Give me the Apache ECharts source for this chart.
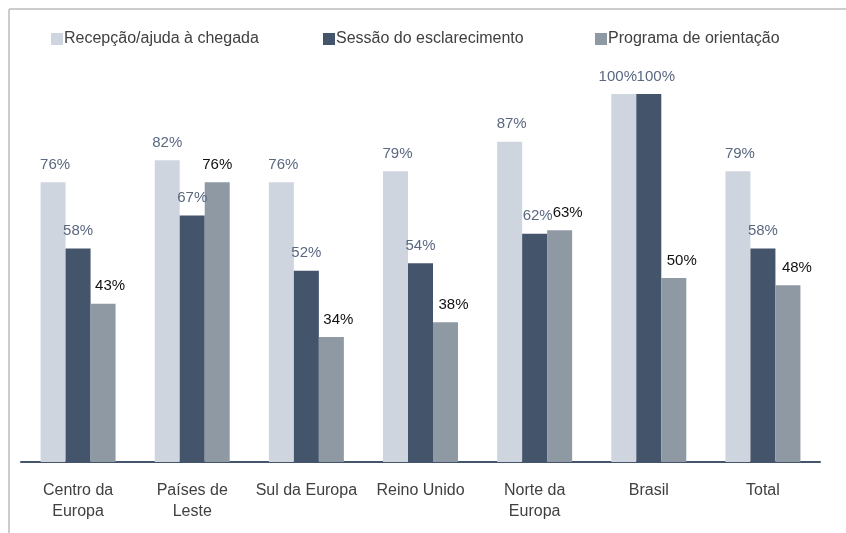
<!DOCTYPE html>
<html>
<head>
<meta charset="utf-8">
<script src="https://cdn.jsdelivr.net/npm/echarts@6/dist/echarts.min.js"></script>
<style>
html, body { margin: 0; padding: 0; background: #fff; }
#chart { width: 846px; height: 533px; }
</style>
</head>
<body>
<div id="chart"></div>
<script>
// categorias (com quebra de linha como no original)
var regioes = ['Centro da\nEuropa', 'Países de\nLeste', 'Sul da Europa', 'Reino Unido', 'Norte da\nEuropa', 'Brasil', 'Total'];
var seriesNomes = ['Recepção/ajuda à chegada', 'Sessão do esclarecimento', 'Programa de orientação'];
var recepcao = [76, 82, 76, 79, 87, 100, 79];
var sessao = [58, 67, 52, 54, 62, 100, 58];
var programa = [43, 76, 34, 38, 63, 50, 48];

var cores = ['#cfd5df', '#44546a', '#8e99a4'];
var coresRotulo = ['#5a6880', '#5a6880', '#111111'];
// deslocamento horizontal dos rótulos (como o Excel os deixou)
var deslocRotulo = [
	[2, 0, 2, 2, 2, -6, 2],
	[0, 0, 0, 0, 3, 7, 0],
	[7, 0, 7, 8, 8, 8, 9]
];
var legendaEsq = [46, 318, 590];

var myChart = echarts.init(document.getElementById('chart'));

function serie(i, dados) {
	var itens = [];
	for (var k = 0; k < dados.length; k++) {
		itens.push({ value: dados[k], label: { offset: [deslocRotulo[i][k], 0] } });
	}
	return {
		name: seriesNomes[i],
		type: 'bar',
		data: itens,
		barWidth: 25,
		barGap: '0%',
		itemStyle: { color: cores[i] },
		label: {
			show: true,
			position: 'top',
			distance: 10,
			formatter: '{c}%',
			fontFamily: 'Liberation Sans',
			fontSize: 15,
			color: coresRotulo[i]
		}
	};
}

var legendas = [];
for (var j = 0; j < seriesNomes.length; j++) {
	legendas.push({
		top: 26,
		left: legendaEsq[j],
		itemWidth: 12,
		itemHeight: 12,
		icon: 'rect',
		textStyle: { fontFamily: 'Liberation Sans', fontSize: 16, color: '#404040', padding: [0, 0, 0, -4] },
		data: [seriesNomes[j]]
	});
}

var option = {
	animation: false,
	backgroundColor: '#fff',
	graphic: [
		// moldura cortada do gráfico original
		{ type: 'line', shape: { x1: 9, y1: 9, x2: 846, y2: 9 }, style: { stroke: '#cccccc', lineWidth: 2 } },
		{ type: 'line', shape: { x1: 9, y1: 9, x2: 9, y2: 533 }, style: { stroke: '#cccccc', lineWidth: 2 } }
	],
	legend: legendas,
	grid: { left: 21, right: 26, top: 94, bottom: 71, containLabel: false },
	xAxis: {
		type: 'category',
		data: regioes,
		axisLine: { lineStyle: { color: '#44546a', width: 2 } },
		axisTick: { show: false },
		axisLabel: {
			interval: 0,
			margin: 18,
			fontFamily: 'Liberation Sans',
			fontSize: 16,
			lineHeight: 21,
			color: '#404040'
		}
	},
	yAxis: {
		type: 'value',
		min: 0,
		max: 100,
		show: false,
		splitLine: { show: false }
	},
	series: [
		serie(0, recepcao),
		serie(1, sessao),
		serie(2, programa)
	]
};
myChart.setOption(option);
</script>
</body>
</html>
